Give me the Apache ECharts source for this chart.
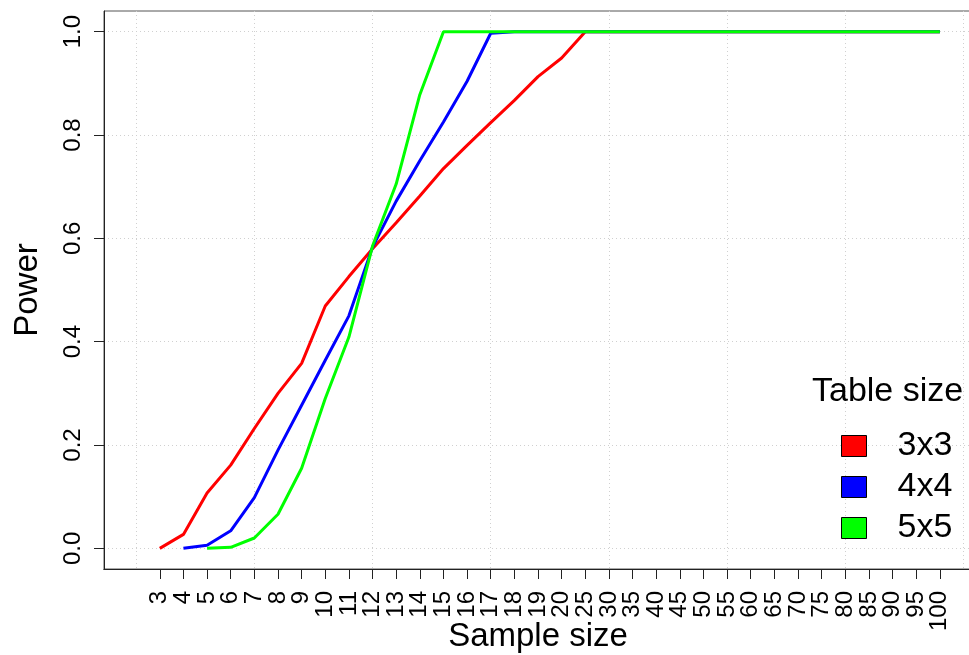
<!DOCTYPE html>
<html>
<head>
<meta charset="utf-8">
<script src="https://cdn.jsdelivr.net/npm/echarts@6/dist/echarts.min.js"></script>
<style>
  html, body { margin: 0; padding: 0; background: #fff; }
  #chart { width: 969px; height: 655px; }
</style>
</head>
<body>
<div id="chart"></div>
<script>
  // x categories (sample size), plotted at positions 1..34
  const sampleSizes = ['3', '4', '5', '6', '7', '8', '9', '10', '11', '12', '13', '14', '15', '16', '17', '18', '19', '20',
    '25', '30', '35', '40', '45', '50', '55', '60', '65', '70', '75', '80', '85', '90', '95', '100']
  const yTicks = [0, 0.2, 0.4, 0.6, 0.8, 1.0]
  const tableSizes = ['3x3', '4x4', '5x5']
  const lineColors = ['#ff0000', '#0000ff', '#00ff00']

  const power3x3 = [0, 0.027, 0.107, 0.161, 0.232, 0.300, 0.358, 0.469, 0.526, 0.580, 0.630, 0.682, 0.735, 0.780, 0.824, 0.867, 0.913, 0.949,
    1, 1, 1, 1, 1, 1, 1, 1, 1, 1, 1, 1, 1, 1, 1, 1]
  const power4x4 = [null, 0, 0.006, 0.034, 0.098, 0.190, 0.277, 0.364, 0.450, 0.583, 0.672, 0.750, 0.825, 0.904, 0.997, 1, 1, 1,
    1, 1, 1, 1, 1, 1, 1, 1, 1, 1, 1, 1, 1, 1, 1, 1]
  const power5x5 = [null, null, 0, 0.002, 0.020, 0.066, 0.155, 0.290, 0.409, 0.585, 0.705, 0.878, 1, 1, 1, 1, 1, 1,
    1, 1, 1, 1, 1, 1, 1, 1, 1, 1, 1, 1, 1, 1, 1, 1]

  const font = 'Liberation Sans'
  const positions = sampleSizes.map((s, i) => i + 1)
  // labels are split over two axes so ECharts does not drop neighbours as overlapping
  const oddPositions = positions.filter((p) => p % 2 === 1)
  const evenPositions = positions.filter((p) => p % 2 === 0)
  const toPoints = (values) => values.map((v, i) => [i + 1, v])
  const dotted = { color: '#d0d0d0', type: [1, 3], width: 1 }
  const plotBox = { left: 104, right: -3, top: 11, bottom: 86, outerBoundsMode: 'none', containLabel: false }

  const labelAxis = (gridIndex, values, extra) => Object.assign({
    type: 'value',
    gridIndex: gridIndex,
    min: -1.36,
    max: 35.36,
    axisLine: { onZero: false, lineStyle: { color: '#222', width: 1 } },
    axisTick: { length: 10, customValues: values, lineStyle: { color: '#222' } },
    axisLabel: {
      customValues: values,
      showMinLabel: true,
      showMaxLabel: true,
      hideOverlap: false,
      rotate: 90,
      margin: 22,
      fontFamily: font,
      fontSize: 24,
      color: '#000',
      formatter: (v) => sampleSizes[Math.round(v) - 1] || ''
    },
    splitLine: { show: false }
  }, extra)

  const chart = echarts.init(document.getElementById('chart'), null, { renderer: 'canvas' })

  const option = {
    animation: false,
    backgroundColor: '#fff',
    textStyle: { fontFamily: font },
    grid: [
      Object.assign({ show: true, borderColor: '#555', borderWidth: 1 }, plotBox),
      // spans positions 0..35, only for the vertical dotted grid
      { left: 136.1, right: 5.5, top: 11, bottom: 86, outerBoundsMode: 'none', containLabel: false },
      Object.assign({}, plotBox)
    ],
    title: {
      text: 'Table size',
      left: 812,
      top: 375,
      padding: 0,
      textStyle: { fontFamily: font, fontSize: 34, fontWeight: 'normal', color: '#000' }
    },
    legend: {
      orient: 'vertical',
      left: 841,
      top: 429,
      padding: 0,
      itemGap: 7,
      itemWidth: 25,
      itemHeight: 21,
      icon: 'rect',
      itemStyle: { borderColor: '#000', borderWidth: 1 },
      textStyle: { fontFamily: font, fontSize: 34, lineHeight: 34, color: '#000', padding: [0, 0, 0, 26] },
      data: tableSizes
    },
    xAxis: [
      labelAxis(0, oddPositions, {
        name: 'Sample size',
        nameLocation: 'middle',
        nameGap: 51,
        nameMoveOverlap: false,
        nameTextStyle: { fontFamily: font, fontSize: 33, color: '#000' }
      }),
      {
        type: 'value',
        gridIndex: 1,
        min: 0,
        max: 35,
        interval: 5,
        axisLine: { show: false },
        axisTick: { show: false },
        axisLabel: { show: false },
        splitLine: { show: true, lineStyle: dotted }
      },
      labelAxis(2, evenPositions, {})
    ],
    yAxis: [{
      type: 'value',
      gridIndex: 0,
      min: -0.04,
      max: 1.04,
      name: 'Power',
      nameLocation: 'middle',
      nameGap: 60,
      nameTextStyle: { fontFamily: font, fontSize: 33, color: '#000' },
      axisLine: { show: true, onZero: false, lineStyle: { color: '#222', width: 1 } },
      axisTick: { show: true, length: 10, customValues: yTicks, lineStyle: { color: '#222' } },
      axisLabel: {
        customValues: yTicks,
        rotate: 90,
        margin: 19,
        fontFamily: font,
        fontSize: 24,
        color: '#000',
        formatter: (v) => v.toFixed(1)
      },
      splitLine: { show: true, lineStyle: dotted }
    }, {
      type: 'value',
      gridIndex: 1,
      show: false,
      splitLine: { show: false }
    }, {
      type: 'value',
      gridIndex: 2,
      show: false,
      splitLine: { show: false }
    }],
    series: [power3x3, power4x4, power5x5].map((values, k) => ({
      name: tableSizes[k],
      type: 'line',
      xAxisIndex: 0,
      yAxisIndex: 0,
      data: toPoints(values),
      symbol: 'none',
      color: lineColors[k],
      lineStyle: { width: 3, color: lineColors[k] }
    }))
  }

  chart.setOption(option)
</script>
</body>
</html>
